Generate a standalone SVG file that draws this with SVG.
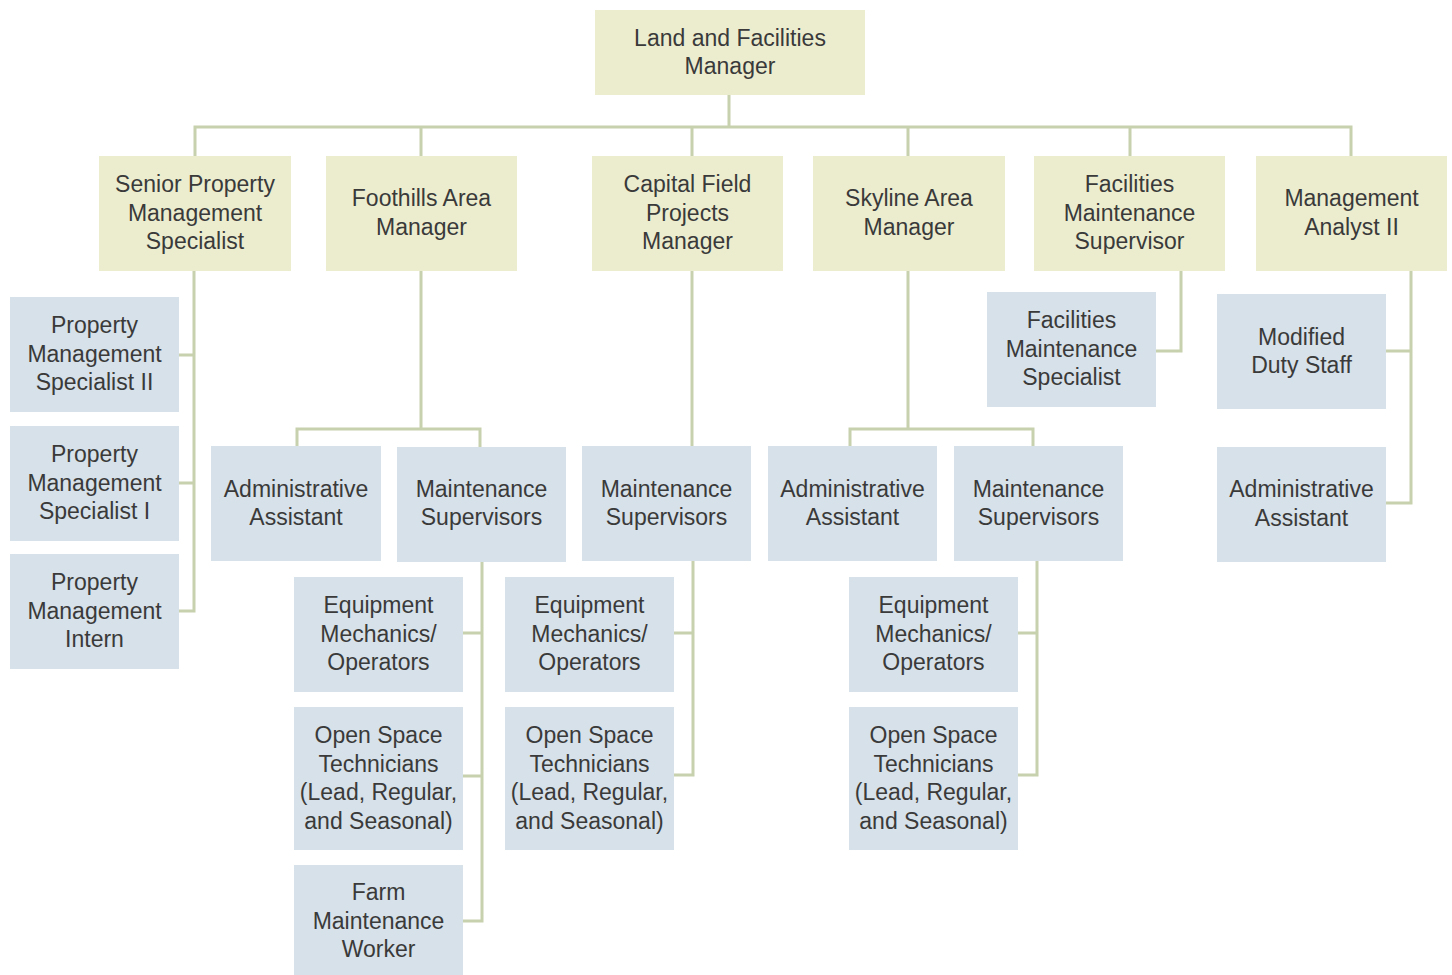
<svg xmlns="http://www.w3.org/2000/svg" width="1452" height="975" viewBox="0 0 1452 975">
<style>
.y{fill:#ECEDCF}
.b{fill:#D7E1E9}
text{font-family:"Liberation Sans",Arial,sans-serif;font-size:23px;fill:#3A3A3A;text-anchor:middle}
.c{fill:none;stroke:#C7D1AE;stroke-width:3}
</style>
<rect width="1452" height="975" fill="#FFFFFF"/>
<g id="connectors" class="c">
<path d="M729 95V127M195 156V127H1351V156M421 127V156M692 127V156M908 127V156M1130 127V156"/>
<path d="M194 271V611H179M179 355H194M179 483H194"/>
<path d="M421 271V429M297 446V429H480V447"/>
<path d="M482 562V921H463M463 633H482M463 776H482"/>
<path d="M692 271V446"/>
<path d="M693 561V775H674M674 633H693"/>
<path d="M908 271V429M850 446V429H1033V446"/>
<path d="M1037 561V775H1018M1018 633H1037"/>
<path d="M1181 271V351H1156"/>
<path d="M1411 271V503H1386M1386 351H1411"/>
</g>
<g id="n_top"><rect class="y" x="595" y="10" width="270" height="85"/><text x="730" y="45.5">Land and Facilities</text><text x="730" y="74">Manager</text></g>
<g id="n_senior"><rect class="y" x="99" y="156" width="192" height="115"/><text x="195" y="192">Senior Property</text><text x="195" y="220.5">Management</text><text x="195" y="249">Specialist</text></g>
<g id="n_foothills"><rect class="y" x="326" y="156" width="191" height="115"/><text x="421.5" y="206">Foothills Area</text><text x="421.5" y="234.5">Manager</text></g>
<g id="n_capital"><rect class="y" x="592" y="156" width="191" height="115"/><text x="687.5" y="192">Capital Field</text><text x="687.5" y="220.5">Projects</text><text x="687.5" y="249">Manager</text></g>
<g id="n_skyline"><rect class="y" x="813" y="156" width="192" height="115"/><text x="909" y="206">Skyline Area</text><text x="909" y="234.5">Manager</text></g>
<g id="n_fms"><rect class="y" x="1034" y="156" width="191" height="115"/><text x="1129.5" y="192">Facilities</text><text x="1129.5" y="220.5">Maintenance</text><text x="1129.5" y="249">Supervisor</text></g>
<g id="n_analyst"><rect class="y" x="1256" y="156" width="191" height="115"/><text x="1351.5" y="206">Management</text><text x="1351.5" y="234.5">Analyst II</text></g>
<g id="n_pms2"><rect class="b" x="10" y="297" width="169" height="115"/><text x="94.5" y="333">Property</text><text x="94.5" y="361.5">Management</text><text x="94.5" y="390">Specialist II</text></g>
<g id="n_pms1"><rect class="b" x="10" y="426" width="169" height="115"/><text x="94.5" y="462">Property</text><text x="94.5" y="490.5">Management</text><text x="94.5" y="519">Specialist I</text></g>
<g id="n_pmi"><rect class="b" x="10" y="554" width="169" height="115"/><text x="94.5" y="590">Property</text><text x="94.5" y="618.5">Management</text><text x="94.5" y="647">Intern</text></g>
<g id="n_f_admin"><rect class="b" x="211" y="446" width="170" height="115"/><text x="296" y="496.5">Administrative</text><text x="296" y="525">Assistant</text></g>
<g id="n_f_ms"><rect class="b" x="397" y="447" width="169" height="115"/><text x="481.5" y="496.5">Maintenance</text><text x="481.5" y="525">Supervisors</text></g>
<g id="n_f_eq"><rect class="b" x="294" y="577" width="169" height="115"/><text x="378.5" y="613">Equipment</text><text x="378.5" y="641.5">Mechanics/</text><text x="378.5" y="670">Operators</text></g>
<g id="n_f_os"><rect class="b" x="294" y="707" width="169" height="143"/><text x="378.5" y="743">Open Space</text><text x="378.5" y="771.5">Technicians</text><text x="378.5" y="800">(Lead, Regular,</text><text x="378.5" y="828.5">and Seasonal)</text></g>
<g id="n_f_farm"><rect class="b" x="294" y="865" width="169" height="115"/><text x="378.5" y="900">Farm</text><text x="378.5" y="928.5">Maintenance</text><text x="378.5" y="957">Worker</text></g>
<g id="n_c_ms"><rect class="b" x="582" y="446" width="169" height="115"/><text x="666.5" y="496.5">Maintenance</text><text x="666.5" y="525">Supervisors</text></g>
<g id="n_c_eq"><rect class="b" x="505" y="577" width="169" height="115"/><text x="589.5" y="613">Equipment</text><text x="589.5" y="641.5">Mechanics/</text><text x="589.5" y="670">Operators</text></g>
<g id="n_c_os"><rect class="b" x="505" y="707" width="169" height="143"/><text x="589.5" y="743">Open Space</text><text x="589.5" y="771.5">Technicians</text><text x="589.5" y="800">(Lead, Regular,</text><text x="589.5" y="828.5">and Seasonal)</text></g>
<g id="n_s_admin"><rect class="b" x="768" y="446" width="169" height="115"/><text x="852.5" y="496.5">Administrative</text><text x="852.5" y="525">Assistant</text></g>
<g id="n_s_ms"><rect class="b" x="954" y="446" width="169" height="115"/><text x="1038.5" y="496.5">Maintenance</text><text x="1038.5" y="525">Supervisors</text></g>
<g id="n_s_eq"><rect class="b" x="849" y="577" width="169" height="115"/><text x="933.5" y="613">Equipment</text><text x="933.5" y="641.5">Mechanics/</text><text x="933.5" y="670">Operators</text></g>
<g id="n_s_os"><rect class="b" x="849" y="707" width="169" height="143"/><text x="933.5" y="743">Open Space</text><text x="933.5" y="771.5">Technicians</text><text x="933.5" y="800">(Lead, Regular,</text><text x="933.5" y="828.5">and Seasonal)</text></g>
<g id="n_fmspec"><rect class="b" x="987" y="292" width="169" height="115"/><text x="1071.5" y="328">Facilities</text><text x="1071.5" y="356.5">Maintenance</text><text x="1071.5" y="385">Specialist</text></g>
<g id="n_mds"><rect class="b" x="1217" y="294" width="169" height="115"/><text x="1301.5" y="344.5">Modified</text><text x="1301.5" y="373">Duty Staff</text></g>
<g id="n_a_admin"><rect class="b" x="1217" y="447" width="169" height="115"/><text x="1301.5" y="497">Administrative</text><text x="1301.5" y="525.5">Assistant</text></g>
</svg>
